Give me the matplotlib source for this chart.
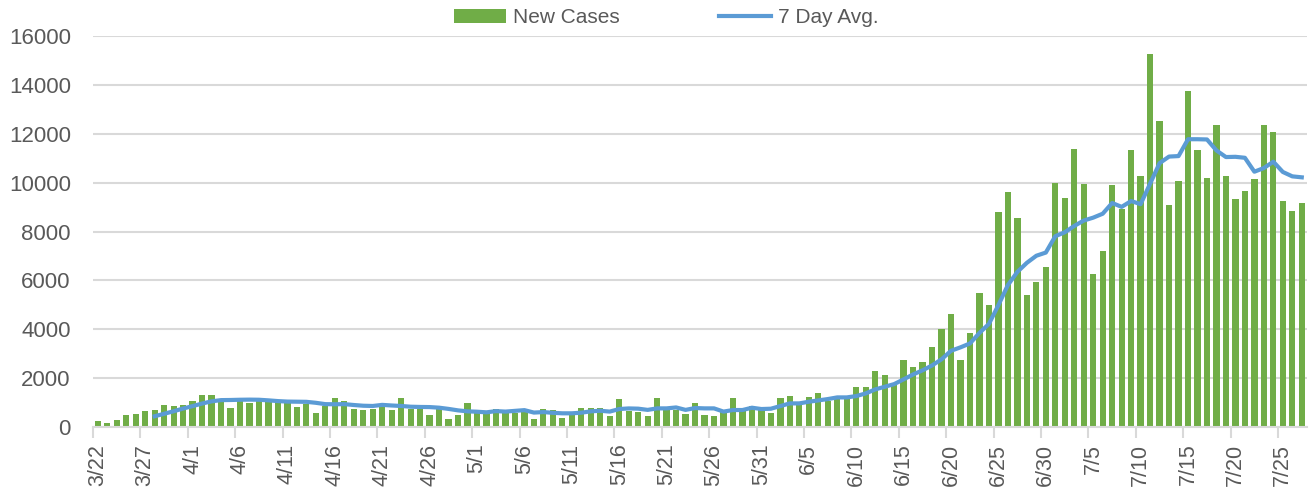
import matplotlib.pyplot as plt
import numpy as np
import datetime as dt

# daily new cases, 3/22 .. 7/27
cases_mar = [260, 165, 275, 480, 540, 660, 715, 880, 855, 920]
cases_apr = [1045, 1295, 1310, 1160, 785, 1195, 1000, 1130, 1060, 1010,
             995, 810, 955, 590, 870, 1200, 1075, 735, 710, 755,
             850, 705, 1200, 720, 735, 500, 730, 315, 490, 980]
cases_may = [600, 570, 735, 570, 560, 650, 335, 755, 685, 370,
             505, 780, 780, 790, 465, 1130, 635, 605, 455, 1205,
             710, 710, 548, 970, 495, 465, 600, 1205, 720, 870, 705]
cases_jun = [590, 1205, 1280, 1005, 1225, 1390, 1075, 1170, 1170, 1640,
             1630, 2310, 2120, 1700, 2740, 2440, 2680, 3290, 4000, 4640,
             2740, 3830, 5480, 5000, 8800, 9620, 8540, 5390, 5950, 6530]
cases_jul = [10000, 9390, 11360, 9960, 6260, 7200, 9890, 8910, 11320, 10260,
             15270, 12540, 9100, 10050, 13740, 11350, 10180, 12380, 10260, 9320,
             9660, 10150, 12350, 12080, 9240, 8830, 9160]

# 7 day average, starts on 3/28
avg_vals = [440, 540, 645, 755,
            855, 960, 1050, 1100, 1105, 1115, 1120, 1115, 1090, 1060,
            1040, 1035, 1030, 990, 935, 930, 935, 900, 870, 860,
            905, 880, 860, 830, 820, 815, 790, 740, 680, 640,
            625, 600, 650, 630, 660, 690, 590, 610, 580, 560,
            560, 585, 640, 665, 630, 735, 760, 750, 700, 762,
            762, 800, 700, 776, 762, 762, 630, 694, 694, 789, 735,
            748, 857, 966, 966, 1034, 1088, 1143, 1211, 1211, 1265,
            1374, 1537, 1646, 1755, 1950, 2150, 2320, 2520, 2770, 3120,
            3260, 3420, 3850, 4220, 4990, 5810, 6350, 6720, 7010, 7140,
            7810, 7970, 8230, 8450, 8570, 8730, 9170, 9010, 9250, 9120,
            9960, 10800, 11070, 11090, 11780, 11780, 11770, 11320, 11050, 11060,
            11020, 10450, 10600, 10860, 10440, 10260, 10220]

cases = cases_mar + cases_apr + cases_may + cases_jun + cases_jul
n = len(cases)
start = dt.date(2020, 3, 22)
labels = [(start + dt.timedelta(days=i)) for i in range(n)]
labels = ["%d/%d" % (d.month, d.day) for d in labels]
x = np.arange(n)
avg_x = x[n - len(avg_vals):]

plt.rcParams['font.family'] = ['Liberation Sans', 'DejaVu Sans']
txt = '#595959'
grid = '#d9d9d9'

fig = plt.figure(figsize=(13.09, 4.95), dpi=100)
ax = fig.add_axes([0.0711, 0.1374, 0.927, 0.7896])

bars = ax.bar(x, cases, width=0.66, color='#70ad47', label='New Cases', zorder=2)
line, = ax.plot(avg_x, avg_vals, color='#5b9bd5', lw=3, label='7 Day Avg.', zorder=3)

ax.set_ylim(0, 16000)
ax.set_xlim(-0.5, n - 0.5)
ax.set_yticks(range(0, 16001, 2000))
ax.yaxis.grid(True, color=grid, lw=1.5, zorder=0)
ax.set_axisbelow(True)
ax.tick_params(axis='y', length=0, labelsize=16, labelcolor=txt, pad=16)

ax.set_xticks(x[::5])
ax.set_xticklabels(labels[::5], rotation=90)
ax.set_xticks(x[::5] - 0.5, minor=True)
ax.tick_params(axis='x', which='major', length=0, labelsize=15.5, labelcolor=txt, pad=12)
ax.tick_params(axis='x', which='minor', length=8, width=1.5, color=grid)

for s in ['top', 'right', 'left']:
    ax.spines[s].set_visible(False)
ax.spines['bottom'].set_color(grid)
ax.spines['bottom'].set_linewidth(1.5)

leg = fig.legend([bars, line], ['New Cases', '7 Day Avg.'], loc='center',
                 bbox_to_anchor=(0.509, 0.964), ncol=2, frameon=False,
                 fontsize=15, handlelength=2.5, handletextpad=0.3, columnspacing=4.8)
for t in leg.get_texts():
    t.set_color(txt)

fig.savefig('out.png', dpi=100)
